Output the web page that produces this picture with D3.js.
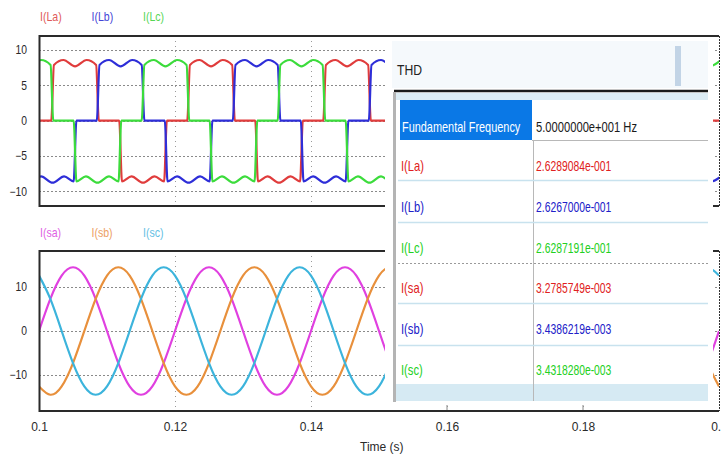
<!DOCTYPE html>
<html>
<head>
<meta charset="utf-8">
<title>Line currents and THD</title>
<script src="https://d3js.org/d3.v7.min.js"></script>
<style>
  body { margin: 0; background: #fff; }
  text { font-family: "Liberation Sans", Arial, sans-serif; }
</style>
</head>
<body>
<svg width="721" height="457"></svg>
<script>
// ---- data ----
var topNames = ["I(La)", "I(Lb)", "I(Lc)"];
var botNames = ["I(sa)", "I(sb)", "I(sc)"];
var xTicks = [0.1, 0.12, 0.14, 0.16, 0.18, 0.2];
var topTicks = [-10, -5, 0, 5, 10];
var botTicks = [-10, 0, 10];

// [time s, current A]
var iLa = [[0.1000,0],
  [0.1018,0],[0.1022,7.9],[0.1036,8.6],[0.1053,7.7],[0.1070,8.6],[0.1084,7.9],[0.1088,0],
  [0.1118,0],[0.1122,-8.6],[0.1136,-7.9],[0.1153,-8.8],[0.1170,-7.9],[0.1184,-8.6],[0.1188,0],
  [0.1218,0],[0.1222,7.9],[0.1236,8.6],[0.1253,7.7],[0.1270,8.6],[0.1284,7.9],[0.1288,0],
  [0.1318,0],[0.1322,-8.6],[0.1336,-7.9],[0.1353,-8.8],[0.1370,-7.9],[0.1384,-8.6],[0.1388,0],
  [0.1418,0],[0.1422,7.9],[0.1436,8.6],[0.1453,7.7],[0.1470,8.6],[0.1484,7.9],[0.1488,0],
  [0.1518,0],[0.1522,-8.6],[0.1536,-7.9],[0.1553,-8.8],[0.1570,-7.9],[0.1584,-8.6],[0.1588,0],
  [0.1618,0],[0.1622,7.9],[0.1636,8.6],[0.1653,7.7],[0.1670,8.6],[0.1684,7.9],[0.1688,0],
  [0.1718,0],[0.1722,-8.6],[0.1736,-7.9],[0.1753,-8.8],[0.1770,-7.9],[0.1784,-8.6],[0.1788,0],
  [0.1818,0],[0.1822,7.9],[0.1836,8.6],[0.1853,7.7],[0.1870,8.6],[0.1884,7.9],[0.1888,0],
  [0.1918,0],[0.1922,-8.6],[0.1936,-7.9],[0.1953,-8.8],[0.1970,-7.9],[0.1984,-8.6],[0.1988,0],
  [0.2000,0]];

var iLb = [
  [0.0985,0],[0.0989,-8.6],[0.1003,-7.9],[0.1020,-8.8],[0.1037,-7.9],[0.1051,-8.6],[0.1055,0],
  [0.1085,0],[0.1089,7.9],[0.1103,8.6],[0.1120,7.7],[0.1137,8.6],[0.1151,7.9],[0.1155,0],
  [0.1185,0],[0.1189,-8.6],[0.1203,-7.9],[0.1220,-8.8],[0.1237,-7.9],[0.1251,-8.6],[0.1255,0],
  [0.1285,0],[0.1289,7.9],[0.1303,8.6],[0.1320,7.7],[0.1337,8.6],[0.1351,7.9],[0.1355,0],
  [0.1385,0],[0.1389,-8.6],[0.1403,-7.9],[0.1420,-8.8],[0.1437,-7.9],[0.1451,-8.6],[0.1455,0],
  [0.1485,0],[0.1489,7.9],[0.1503,8.6],[0.1520,7.7],[0.1537,8.6],[0.1551,7.9],[0.1555,0],
  [0.1585,0],[0.1589,-8.6],[0.1603,-7.9],[0.1620,-8.8],[0.1637,-7.9],[0.1651,-8.6],[0.1655,0],
  [0.1685,0],[0.1689,7.9],[0.1703,8.6],[0.1720,7.7],[0.1737,8.6],[0.1751,7.9],[0.1755,0],
  [0.1785,0],[0.1789,-8.6],[0.1803,-7.9],[0.1820,-8.8],[0.1837,-7.9],[0.1851,-8.6],[0.1855,0],
  [0.1885,0],[0.1889,7.9],[0.1903,8.6],[0.1920,7.7],[0.1937,8.6],[0.1951,7.9],[0.1955,0],
  [0.1985,0],[0.1989,-8.6],[0.2003,-7.9]];

var iLc = [
  [0.0951,0],[0.0955,7.9],[0.0969,8.6],[0.0986,7.7],[0.1003,8.6],[0.1017,7.9],[0.1021,0],
  [0.1051,0],[0.1055,-8.6],[0.1069,-7.9],[0.1086,-8.8],[0.1103,-7.9],[0.1117,-8.6],[0.1121,0],
  [0.1151,0],[0.1155,7.9],[0.1169,8.6],[0.1186,7.7],[0.1203,8.6],[0.1217,7.9],[0.1221,0],
  [0.1251,0],[0.1255,-8.6],[0.1269,-7.9],[0.1286,-8.8],[0.1303,-7.9],[0.1317,-8.6],[0.1321,0],
  [0.1351,0],[0.1355,7.9],[0.1369,8.6],[0.1386,7.7],[0.1403,8.6],[0.1417,7.9],[0.1421,0],
  [0.1451,0],[0.1455,-8.6],[0.1469,-7.9],[0.1486,-8.8],[0.1503,-7.9],[0.1517,-8.6],[0.1521,0],
  [0.1551,0],[0.1555,7.9],[0.1569,8.6],[0.1586,7.7],[0.1603,8.6],[0.1617,7.9],[0.1621,0],
  [0.1651,0],[0.1655,-8.6],[0.1669,-7.9],[0.1686,-8.8],[0.1703,-7.9],[0.1717,-8.6],[0.1721,0],
  [0.1751,0],[0.1755,7.9],[0.1769,8.6],[0.1786,7.7],[0.1803,8.6],[0.1817,7.9],[0.1821,0],
  [0.1851,0],[0.1855,-8.6],[0.1869,-7.9],[0.1886,-8.8],[0.1903,-7.9],[0.1917,-8.6],[0.1921,0],
  [0.1951,0],[0.1955,7.9],[0.1969,8.6],[0.1986,7.7],[0.2003,8.6]];

// source currents, one value every 1/12 of a cycle from t = 0.1 s
var sStep = 0.02 / 12;
var iSa = [0,7.3,12.6,14.5,12.6,7.3,0,-7.3,-12.6,-14.5,-12.6,-7.3,
  0,7.3,12.6,14.5,12.6,7.3,0,-7.3,-12.6,-14.5,-12.6,-7.3,
  0,7.3,12.6,14.5,12.6,7.3,0,-7.3,-12.6,-14.5,-12.6,-7.3,
  0,7.3,12.6,14.5,12.6,7.3,0,-7.3,-12.6,-14.5,-12.6,-7.3,
  0,7.3,12.6,14.5,12.6,7.3,0,-7.3,-12.6,-14.5,-12.6,-7.3, 0];
var iSb = [-12.6,-14.5,-12.6,-7.3,0,7.3,12.6,14.5,12.6,7.3,0,-7.3,
  -12.6,-14.5,-12.6,-7.3,0,7.3,12.6,14.5,12.6,7.3,0,-7.3,
  -12.6,-14.5,-12.6,-7.3,0,7.3,12.6,14.5,12.6,7.3,0,-7.3,
  -12.6,-14.5,-12.6,-7.3,0,7.3,12.6,14.5,12.6,7.3,0,-7.3,
  -12.6,-14.5,-12.6,-7.3,0,7.3,12.6,14.5,12.6,7.3,0,-7.3, -12.6];
var iSc = [12.6,7.3,0,-7.3,-12.6,-14.5,-12.6,-7.3,0,7.3,12.6,14.5,
  12.6,7.3,0,-7.3,-12.6,-14.5,-12.6,-7.3,0,7.3,12.6,14.5,
  12.6,7.3,0,-7.3,-12.6,-14.5,-12.6,-7.3,0,7.3,12.6,14.5,
  12.6,7.3,0,-7.3,-12.6,-14.5,-12.6,-7.3,0,7.3,12.6,14.5,
  12.6,7.3,0,-7.3,-12.6,-14.5,-12.6,-7.3,0,7.3,12.6,14.5, 12.6];

// THD table
var thdLabels = ["I(La)", "I(Lb)", "I(Lc)", "I(sa)", "I(sb)", "I(sc)"];
var thdValues = ["2.6289084e-001", "2.6267000e-001", "2.6287191e-001",
                 "3.2785749e-003", "3.4386219e-003", "3.4318280e-003"];
var fundamental = "5.0000000e+001 Hz";

// ---- drawing ----
var svg = d3.select("svg");
var topColors = ["#e03c3c", "#2e2ed8", "#3cdc3c"];
var topText = ["#e05a5a", "#4444d6", "#56d656"];
var botColors = ["#e040e0", "#e8903c", "#3cb4dc"];
var botText = ["#e060e4", "#eca064", "#64c0e4"];
var thdColors = ["#e02020", "#2020c8", "#22d022", "#e02020", "#2020c8", "#22d022"];

var x = d3.scaleLinear().domain([0.1, 0.2]).range([39, 719]);
var yTop = d3.scaleLinear().domain([-12.1, 12]).range([206, 36]);
var yBot = d3.scaleLinear().domain([-18.2, 18.2]).range([411, 251]);

svg.append("clipPath").attr("id", "clipTop")
  .append("rect").attr("x", 39).attr("y", 36).attr("width", 680).attr("height", 170);
svg.append("clipPath").attr("id", "clipBot")
  .append("rect").attr("x", 39).attr("y", 251).attr("width", 680).attr("height", 160);

// condensed text: place with translate, squeeze horizontally
function squeeze(sel, sx, px, py) {
  sel.attr("transform", function(d, i) {
    return "translate(" + px(d, i) + "," + py(d, i) + ") scale(" + sx + ",1)";
  });
}

function grid(y, ticks) {
  var g = svg.append("g");
  g.selectAll(".h").data(ticks).enter().append("line")
    .attr("x1", x(0.1)).attr("x2", x(0.2))
    .attr("y1", function(d) { return Math.round(y(d)) + 0.5; })
    .attr("y2", function(d) { return Math.round(y(d)) + 0.5; })
    .attr("stroke", "#8a8a8a").attr("stroke-dasharray", "2,2");
  g.selectAll(".v").data(xTicks.slice(1, 5)).enter().append("line")
    .attr("x1", function(d) { return Math.round(x(d)) + 0.5; })
    .attr("x2", function(d) { return Math.round(x(d)) + 0.5; })
    .attr("y1", y.range()[1]).attr("y2", y.range()[0])
    .attr("stroke", "#9a9a9a").attr("stroke-dasharray", "1,4");
}
grid(yTop, topTicks);
grid(yBot, botTicks);

var lineTop = d3.line().x(function(d) { return x(d[0]); })
  .y(function(d) { return yTop(d[1]); }).curve(d3.curveMonotoneX);
svg.append("g").attr("clip-path", "url(#clipTop)")
  .selectAll("path").data([iLa, iLb, iLc]).enter().append("path")
  .attr("d", lineTop).attr("fill", "none")
  .attr("stroke", function(d, i) { return topColors[i]; })
  .attr("stroke-width", 2.2);

var lineBot = d3.line().x(function(d, i) { return x(0.1 + i * sStep); })
  .y(function(d) { return yBot(d); }).curve(d3.curveNatural);
svg.append("g").attr("clip-path", "url(#clipBot)")
  .selectAll("path").data([iSa, iSb, iSc]).enter().append("path")
  .attr("d", lineBot).attr("fill", "none")
  .attr("stroke", function(d, i) { return botColors[i]; })
  .attr("stroke-width", 2.2);

// frames
function frame(y) {
  var y0 = y.range()[1], y1 = y.range()[0];
  svg.append("path")
    .attr("d", "M719," + y0 + "H39.5V" + y1 + "H719")
    .attr("fill", "none").attr("stroke", "#2a2a2a").attr("stroke-width", 2);
  svg.append("line").attr("x1", 719.5).attr("x2", 719.5).attr("y1", y0).attr("y2", y1)
    .attr("stroke", "#333").attr("stroke-dasharray", "2,1");
}
frame(yTop);
frame(yBot);

// y axes
function yAxis(y, ticks) {
  svg.append("g").attr("transform", "translate(39,0)")
    .call(d3.axisLeft(y).tickValues(ticks).tickSize(0).tickPadding(14).tickFormat(d3.format("d")))
    .call(function(g) { g.select(".domain").remove(); })
    .selectAll("text").attr("font-size", 12).attr("fill", "#2a2a2a")
    .attr("font-family", "Liberation Sans, Arial, sans-serif")
    .attr("transform", "scale(0.86,1)");
}
yAxis(yTop, topTicks);
yAxis(yBot, botTicks);

// legends
function legend(names, colors, y) {
  var t = svg.append("g").selectAll("text").data(names).enter().append("text")
    .attr("font-size", 12)
    .attr("fill", function(d, i) { return colors[i]; })
    .text(function(d) { return d; });
  squeeze(t, 0.88, function(d, i) { return 40 + i * 51.5; }, function() { return y; });
}
legend(topNames, topText, 21);
legend(botNames, botText, 237);

// ---- THD window ----
var p = svg.append("g");
p.append("rect").attr("x", 385).attr("y", 38).attr("width", 328).attr("height", 368).attr("fill", "#fff");
p.append("rect").attr("x", 392).attr("y", 41).attr("width", 316).attr("height", 47).attr("fill", "#f5f9fc");
p.append("rect").attr("x", 675).attr("y", 46).attr("width", 6).attr("height", 40).attr("fill", "#c2d4e6");
squeeze(p.append("text").attr("font-size", 14).attr("fill", "#222").text("THD"),
  0.87, function() { return 397; }, function() { return 75; });
p.append("line").attr("x1", 394).attr("x2", 708).attr("y1", 91).attr("y2", 91)
  .attr("stroke", "#1a1a1a").attr("stroke-width", 2.5);
p.append("rect").attr("x", 396).attr("y", 93).attr("width", 312).attr("height", 7).attr("fill", "#dcecf4");
p.append("rect").attr("x", 396).attr("y", 384).attr("width", 312).attr("height", 17).attr("fill", "#d6eaf3");
p.append("rect").attr("x", 393).attr("y", 92).attr("width", 3).attr("height", 310).attr("fill", "#b4b4b4");
p.append("rect").attr("x", 400).attr("y", 100).attr("width", 132).attr("height", 40).attr("fill", "#0a78e6");
p.append("line").attr("x1", 533.5).attr("x2", 533.5).attr("y1", 140).attr("y2", 401).attr("stroke", "#b8b8b8");
p.append("line").attr("x1", 532).attr("x2", 708).attr("y1", 140.5).attr("y2", 140.5).attr("stroke", "#b8b8b8");

var rowLines = [180, 222, 303, 345];
p.selectAll(".rl").data(rowLines).enter().append("line")
  .attr("x1", 398).attr("x2", 708)
  .attr("y1", function(d) { return d + 0.5; }).attr("y2", function(d) { return d + 0.5; })
  .attr("stroke", "#c8e2ee").attr("stroke-width", 1.5);
p.append("line").attr("x1", 398).attr("x2", 708).attr("y1", 263.5).attr("y2", 263.5)
  .attr("stroke", "#9a9a9a").attr("stroke-dasharray", "2,2");

squeeze(p.append("text").attr("font-size", 14).attr("fill", "#fff").text("Fundamental Frequency"),
  0.78, function() { return 402; }, function() { return 132; });
squeeze(p.append("text").attr("font-size", 14).attr("fill", "#1a1a1a").text(fundamental),
  0.8, function() { return 536; }, function() { return 132; });

var rowY = d3.scalePoint().domain(thdLabels).range([171, 375]);
var labs = p.selectAll(".lab").data(thdLabels).enter().append("text")
  .attr("font-size", 14)
  .attr("fill", function(d, i) { return thdColors[i]; })
  .text(function(d) { return d; });
squeeze(labs, 0.8, function() { return 401; }, function(d) { return rowY(d); });
var vals = p.selectAll(".val").data(thdValues).enter().append("text")
  .attr("font-size", 14)
  .attr("fill", function(d, i) { return thdColors[i]; })
  .text(function(d) { return d; });
squeeze(vals, 0.74, function() { return 536; }, function(d, i) { return rowY(thdLabels[i]); });

// x axis
svg.append("g").attr("transform", "translate(0,411)")
  .call(d3.axisBottom(x).tickValues(xTicks).tickSize(0).tickPadding(11).tickFormat(d3.format("~g")))
  .call(function(g) { g.select(".domain").remove(); })
  .selectAll("text").attr("font-size", 12).attr("fill", "#2a2a2a")
  .attr("font-family", "Liberation Sans, Arial, sans-serif");
svg.append("g").selectAll("line").data(xTicks.slice(3, 5)).enter().append("line")
  .attr("x1", function(d) { return x(d); }).attr("x2", function(d) { return x(d); })
  .attr("y1", 405).attr("y2", 410).attr("stroke", "#888");

svg.append("text").attr("x", 360).attr("y", 451)
  .attr("font-size", 12).attr("fill", "#2a2a2a").text("Time (s)");
</script>
</body>
</html>
